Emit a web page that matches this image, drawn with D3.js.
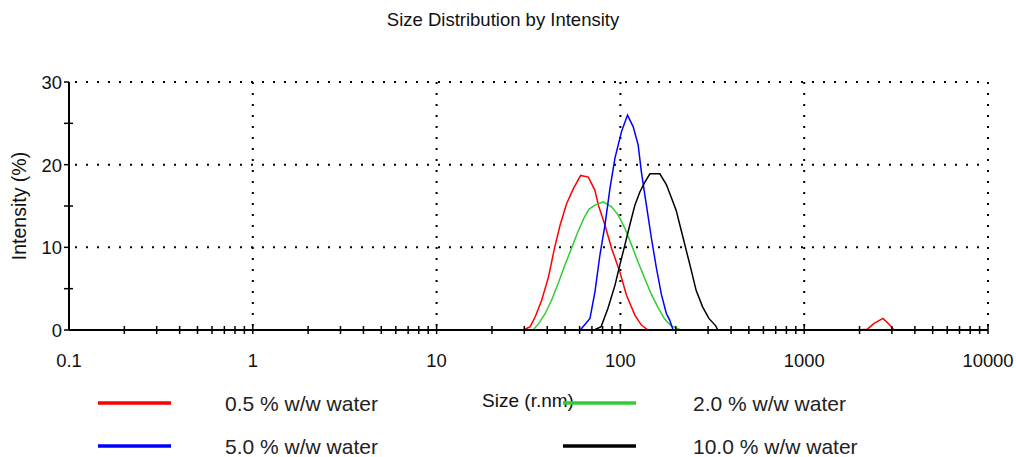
<!DOCTYPE html>
<html>
<head>
<meta charset="utf-8">
<script src="https://cdn.jsdelivr.net/npm/d3@7"></script>
<style>
  body { margin: 0; background: #fff; }
  svg { font-family: "Liberation Sans", Arial, sans-serif; }
</style>
</head>
<body>
<svg width="1016" height="457"></svg>
<script>
// Datos (tamaño en nm, intensidad en %)
const red = [
  [29.7, 0], [32.3, 0.4], [34.4, 1.6], [37.3, 3.6], [40.6, 6.4], [43.8, 9.9], [47.0, 12.7],
  [51.0, 15.3], [55.5, 17.1], [60.8, 18.7], [66.9, 18.5], [72.7, 16.9], [75.9, 15.1],
  [82.4, 12.7], [89.5, 9.9], [99.4, 7.0], [107.9, 4.2], [119.9, 1.8], [130, 0.6], [141.5, 0], [193, 0]
];
const redTail = [[1948, 0], [2207, 0.1], [2399, 0.8], [2685, 1.4], [2893, 0.7], [3081, 0]];
const green = [
  [30.5, 0], [33.5, 0], [36.0, 0.8], [39.0, 2.0], [42.2, 3.6], [45.8, 5.6], [49.6, 7.7], [53.8, 9.7],
  [58.3, 11.7], [63.2, 13.5], [67.3, 14.6], [72.7, 15.1], [80.7, 15.5], [89.5, 14.9],
  [97.3, 13.9], [105.8, 12.3], [114.9, 10.3], [124.9, 8.2], [135.8, 6.2], [147.5, 4.3],
  [160.3, 2.7], [174.3, 1.3], [189.3, 0.5], [213.6, 0]
];
const blue = [
  [60.5, 0], [68.3, 1.4], [72.7, 4.6], [77.4, 9.1], [82.4, 12.7], [87.7, 17.1], [93.4, 20.8],
  [101.4, 24.0], [109.3, 26.0], [117.3, 24.6], [124.9, 22.4], [130.1, 19.1], [138.5, 15.1],
  [147.5, 11.1], [157.0, 7.5], [167.1, 4.3], [177.8, 2.0], [185.5, 1.2], [193.4, 0], [339, 0]
];
const black = [
  [72.0, 0], [78.5, 0.4], [85.5, 2.6], [93.4, 5.4], [99.4, 7.9], [105.8, 10.3], [112.5, 12.7],
  [119.9, 15.1], [127.6, 16.7], [136.0, 17.9], [144.7, 18.9], [163.9, 18.9], [177.8, 17.6],
  [188.8, 16.1], [201.0, 14.5], [214.0, 12.1], [227.8, 9.7], [242.5, 7.3], [258.2, 4.8],
  [280.0, 2.8], [303.0, 1.4], [330.0, 0.5], [339.0, 0]
];

const series = [
  { name: "0.5 % w/w water", color: "#ff0000", data: [red, redTail] },
  { name: "2.0 % w/w water", color: "#33cc33", data: [green] },
  { name: "5.0 % w/w water", color: "#0000ff", data: [blue] },
  { name: "10.0 % w/w water", color: "#000000", data: [black] }
];

const xTicks = [0.1, 1, 10, 100, 1000, 10000];
const yTicks = [0, 10, 20, 30];

const svg = d3.select("svg");

const x = d3.scaleLog().domain([0.1, 10000]).range([69, 988]);
const y = d3.scaleLinear().domain([0, 30]).range([330, 82]);

// Título
svg.append("text")
  .attr("x", 503).attr("y", 26)
  .attr("text-anchor", "middle")
  .attr("font-size", 18.5)
  .attr("fill", "#111")
  .text("Size Distribution by Intensity");

// Rejilla punteada
const grid = svg.append("g")
  .attr("stroke", "#000")
  .attr("stroke-width", 2)
  .attr("stroke-dasharray", "2,9");

grid.selectAll(".gy")
  .data(yTicks.slice(1))
  .enter().append("line")
  .attr("x1", x(0.1) + 6).attr("x2", x(10000))
  .attr("y1", d => y(d)).attr("y2", d => y(d));

grid.selectAll(".gx")
  .data(xTicks.slice(1))
  .enter().append("line")
  .attr("x1", d => x(d)).attr("x2", d => x(d))
  .attr("y1", y(30)).attr("y2", y(0) - 4);

// Curvas
const line = d3.line()
  .x(d => x(d[0]))
  .y(d => y(d[1]));

series.forEach(s => {
  s.data.forEach(seg => {
    svg.append("path")
      .datum(seg)
      .attr("fill", "none")
      .attr("stroke", s.color)
      .attr("stroke-width", 1.5)
      .attr("d", line);
  });
});

// Ejes
const axes = svg.append("g").attr("stroke", "#000");

axes.append("line")
  .attr("x1", x(0.1)).attr("x2", x(10000))
  .attr("y1", y(0)).attr("y2", y(0))
  .attr("stroke-width", 2);

axes.append("line")
  .attr("x1", x(0.1)).attr("x2", x(0.1))
  .attr("y1", y(30)).attr("y2", y(0))
  .attr("stroke-width", 2);

// Marcas menores del eje X (2..9 en cada década)
const minorX = [];
for (let e = -1; e < 4; e++) {
  for (let m = 2; m <= 9; m++) minorX.push(m * Math.pow(10, e));
}
axes.selectAll(".mx")
  .data(minorX.concat(xTicks.slice(1)))
  .enter().append("line")
  .attr("x1", d => x(d)).attr("x2", d => x(d))
  .attr("y1", y(0) - 4).attr("y2", y(0) + 4)
  .attr("stroke-width", 1.5);

// Marcas del eje Y
axes.selectAll(".my")
  .data([5, 15, 25])
  .enter().append("line")
  .attr("x1", x(0.1) - 5).attr("x2", x(0.1) + 4)
  .attr("y1", d => y(d)).attr("y2", d => y(d))
  .attr("stroke-width", 1.5);

axes.selectAll(".ty")
  .data(yTicks)
  .enter().append("line")
  .attr("x1", x(0.1) - 5).attr("x2", x(0.1))
  .attr("y1", d => y(d)).attr("y2", d => y(d))
  .attr("stroke-width", 1.5);

// Etiquetas de los ejes
svg.selectAll(".lx")
  .data(xTicks)
  .enter().append("text")
  .attr("x", d => x(d))
  .attr("y", 367)
  .attr("text-anchor", "middle")
  .attr("font-size", 18.4)
  .attr("fill", "#111")
  .text(d => d);

svg.selectAll(".ly")
  .data(yTicks)
  .enter().append("text")
  .attr("x", 62)
  .attr("y", d => y(d) + 7)
  .attr("text-anchor", "end")
  .attr("font-size", 18.4)
  .attr("fill", "#111")
  .text(d => d);

svg.append("text")
  .attr("transform", "translate(26,206) rotate(-90)")
  .attr("text-anchor", "middle")
  .attr("font-size", 19.5)
  .attr("fill", "#111")
  .text("Intensity (%)");

svg.append("text")
  .attr("x", 528).attr("y", 407)
  .attr("text-anchor", "middle")
  .attr("font-size", 19)
  .attr("fill", "#111")
  .text("Size (r.nm)");

// Leyenda
const legendPos = [
  { lx: 98, tx: 225, ty: 403 },
  { lx: 563, tx: 693, ty: 403 },
  { lx: 98, tx: 225, ty: 446 },
  { lx: 563, tx: 693, ty: 446 }
];

series.forEach((s, i) => {
  const p = legendPos[i];
  svg.append("line")
    .attr("x1", p.lx).attr("x2", p.lx + 73)
    .attr("y1", p.ty).attr("y2", p.ty)
    .attr("stroke", s.color)
    .attr("stroke-width", 3.5);
  svg.append("text")
    .attr("x", p.tx).attr("y", p.ty + 8)
    .attr("font-size", 21)
    .attr("fill", "#222")
    .text(s.name);
});
</script>
</body>
</html>
